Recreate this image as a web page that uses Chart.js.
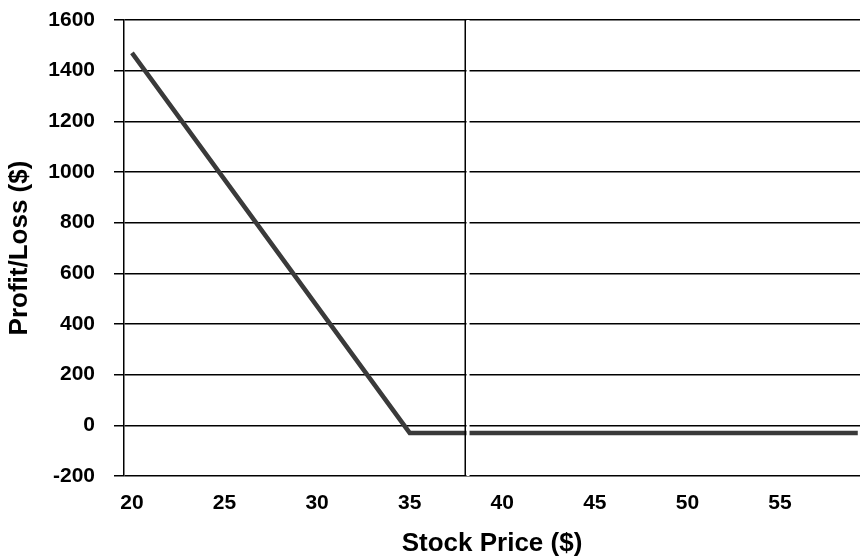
<!DOCTYPE html>
<html>
<head>
<meta charset="utf-8">
<script src="https://cdn.jsdelivr.net/npm/chart.js@4"></script>
<style>
html,body{margin:0;padding:0;background:#fff;}
#wrap{width:861px;height:559px;position:relative;}
</style>
</head>
<body>
<div id="wrap"><canvas id="c" width="861" height="559"></canvas></div>
<script>
// Data
const stockPrices = [20, 35, 59.2];
const profitLoss = [1470, -30, -30];
const xTickValues = [20, 25, 30, 35, 40, 45, 50, 55];
const yTickValues = [-200, 0, 200, 400, 600, 800, 1000, 1200, 1400, 1600];
const dividerX = 38;
const xTitle = 'Stock Price ($)';
const yTitle = 'Profit/Loss ($)';

const payoff = stockPrices.map((x, i) => ({x: x, y: profitLoss[i]}));
const yMin = yTickValues[0], yMax = yTickValues[yTickValues.length - 1];

const FONT = '"Liberation Sans", Arial, sans-serif';
const AREA = {top: 20, bottom: 476, left: 124, right: 860};

const chart = new Chart(document.getElementById('c'), {
  type: 'scatter',
  data: {
    datasets: [
      {
        label: 'divider',
        data: [{x: dividerX, y: yMin}, {x: dividerX, y: yMax}],
        showLine: true, borderColor: '#000', borderWidth: 1.5,
        pointRadius: 0, order: 1
      },
      {
        label: 'gap',
        data: [{x: dividerX + 0.15, y: yMin - 5}, {x: dividerX + 0.15, y: yMax + 5}],
        showLine: true, borderColor: '#fff', borderWidth: 3,
        pointRadius: 0, order: 2
      },
      {
        label: 'Profit/Loss',
        data: payoff,
        showLine: true, borderColor: '#3a3a3a', borderWidth: 4.5,
        pointRadius: 0, order: 3, tension: 0
      }
    ]
  },
  options: {
    responsive: false,
    animation: false,
    events: [],
    layout: {padding: {top: 20, right: 1, left: 0, bottom: 0}},
    plugins: {legend: {display: false}, tooltip: {enabled: false}},
    scales: {
      x: {
        type: 'linear', min: 19.57, max: 59.32,
        border: {display: false},
        grid: {display: false, drawTicks: false},
        afterBuildTicks: (ax) => { ax.ticks = xTickValues.map(v => ({value: v})); },
        afterFit: (ax) => { ax.height = 559 - AREA.bottom; ax.paddingLeft = 0; ax.paddingRight = 0; },
        ticks: {
          color: '#000', padding: 15,
          font: {family: FONT, size: 21, weight: 'bold'},
          callback: (v) => String(v), maxRotation: 0, autoSkip: false
        },
        title: {
          display: true, text: xTitle, color: '#000',
          font: {family: FONT, size: 26, weight: 'bold'},
          padding: {top: 4, bottom: 0}
        }
      },
      y: {
        type: 'linear', min: yMin, max: yMax,
        border: {display: true, color: '#000', width: 1.5},
        grid: {color: '#000', lineWidth: 1.5, tickLength: 10, tickColor: '#000', drawTicks: true},
        afterBuildTicks: (ax) => { ax.ticks = yTickValues.map(v => ({value: v})); },
        afterFit: (ax) => { ax.width = AREA.left; ax.paddingTop = 0; ax.paddingBottom = 0; },
        ticks: {
          color: '#000', padding: 19,
          font: {family: FONT, size: 21, weight: 'bold'},
          callback: (v) => String(v), autoSkip: false
        },
        title: {
          display: true, text: yTitle, color: '#000',
          font: {family: FONT, size: 26, weight: 'bold'},
          padding: {top: 4, bottom: 0}
        }
      }
    }
  }
});
// Nudge layout padding so the plot area lands where the reference has it
for (let i = 0; i < 3; i++) {
  const ca = chart.chartArea;
  const p = chart.config.options.layout.padding;
  const dt = AREA.top - ca.top, db = ca.bottom - AREA.bottom, dr = ca.right - AREA.right;
  if (Math.abs(dt) < 0.5 && Math.abs(db) < 0.5 && Math.abs(dr) < 0.5) break;
  chart.config.options.layout.padding = {
    top: p.top + dt, bottom: p.bottom + db, right: p.right + dr, left: p.left
  };
  chart.update('none');
}
</script>
</body>
</html>
